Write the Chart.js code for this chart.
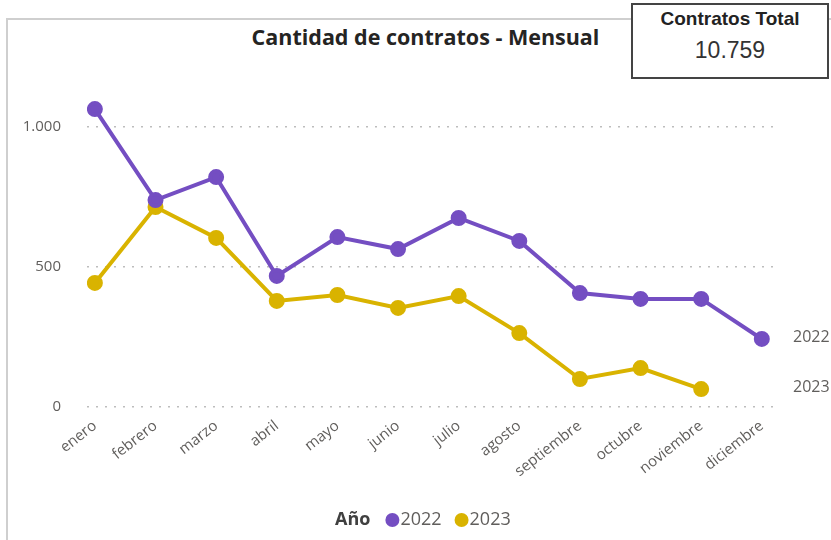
<!DOCTYPE html>
<html>
<head>
<meta charset="utf-8">
<script src="https://cdn.jsdelivr.net/npm/chart.js@4.4.1/dist/chart.umd.min.js"></script>
<style>
  html, body { margin: 0; padding: 0; background: #fff; }
  #wrap { position: relative; width: 831px; height: 540px; overflow: hidden; }
  #card { position: absolute; left: 6px; top: 18px; width: 900px; height: 600px;
          border-left: 2px solid #cfcfcf; border-top: 2px solid #cfcfcf; }
  #title { position: absolute; left: 0; width: 851px; top: 22px; text-align: center;
           font: 700 21.5px "Open Sans", sans-serif; color: #252423; }
  #kpi { position: absolute; left: 631px; top: 3px; width: 194px; height: 72px;
         border: 2px solid #444; background: #fff; text-align: center;
         font-family: "Liberation Sans", Arial, sans-serif; color: #222; }
  #kpi .lbl { font-weight: bold; font-size: 19px; margin-top: 3px; }
  #kpi .val { font-size: 23px; margin-top: 7px; color: #333; }
  canvas { position: absolute; left: 0; top: 0; }
</style>
</head>
<body>
<div id="wrap">
  <div id="card"></div>
  <div id="title">Cantidad de contratos - Mensual</div>
  <canvas id="linechart" width="831" height="540"></canvas>
  <div id="kpi"><div class="lbl">Contratos Total</div><div class="val">10.759</div></div>
</div>
<script>
var months = ['enero', 'febrero', 'marzo', 'abril', 'mayo', 'junio', 'julio', 'agosto', 'septiembre', 'octubre', 'noviembre', 'diciembre'];
var values2022 = [1064, 739, 821, 468, 607, 564, 675, 593, 407, 386, 386, 243];
var values2023 = [443, 714, 604, 379, 400, 354, 396, 264, 100, 139, 64];
var yTicks = [0, 500, 1000];

var purple = '#744EC2';
var yellow = '#D9B300';
var grey = '#605E5C';

function toPoints(arr) {
    return arr.map(function (v, i) { return { x: i, y: v }; });
}

// "2022" / "2023" labels at the end of each line
var endLabels = {
    id: 'endLabels',
    afterDatasetsDraw: function (chart) {
        var c = chart.ctx;
        c.save();
        c.font = '16px "Open Sans", sans-serif';
        c.fillStyle = grey;
        c.textBaseline = 'middle';
        c.textAlign = 'left';
        chart.data.datasets.forEach(function (ds, i) {
            var pts = chart.getDatasetMeta(i).data;
            var last = pts[pts.length - 1];
            c.fillText(ds.label, chart.chartArea.right + 13, last.y - 2);
        });
        c.restore();
    }
};

// legend: "Año  ● 2022 ● 2023" on one row
var yearLegend = {
    id: 'yearLegend',
    afterDraw: function (chart) {
        var c = chart.ctx;
        var y = 520;
        c.save();
        c.textBaseline = 'middle';
        c.textAlign = 'left';
        c.font = 'bold 18px "Open Sans", sans-serif';
        c.fillStyle = '#404040';
        var x = 335;
        c.fillText('Año', x, y);
        x += c.measureText('Año').width + 15;
        c.font = '18px "Open Sans", sans-serif';
        chart.data.datasets.forEach(function (ds) {
            c.fillStyle = ds.borderColor;
            c.beginPath();
            c.arc(x + 7, y, 7, 0, Math.PI * 2);
            c.fill();
            x += 15;
            c.fillStyle = grey;
            c.fillText(ds.label, x, y);
            x += c.measureText(ds.label).width + 13;
        });
        c.restore();
    }
};

var ctx = document.getElementById('linechart');
var myChart = new Chart(ctx, {
    type: 'line',
    data: {
        datasets: [{
            label: '2022',
            data: toPoints(values2022),
            borderColor: purple,
            backgroundColor: purple,
            borderWidth: 4,
            pointRadius: 6,
            pointHoverRadius: 6
        }, {
            label: '2023',
            data: toPoints(values2023),
            borderColor: yellow,
            backgroundColor: yellow,
            borderWidth: 4,
            pointRadius: 6,
            pointHoverRadius: 6
        }]
    },
    options: {
        responsive: false,
        animation: false,
        layout: { padding: { top: 99, right: 51, bottom: 42, left: 0 } },
        plugins: {
            title: { display: false },
            tooltip: { enabled: false },
            legend: { display: false }
        },
        scales: {
            x: {
                type: 'linear',
                min: -0.13,
                max: 11.3,
                grid: { display: false },
                border: { display: false },
                ticks: {
                    color: grey,
                    font: { family: 'Open Sans', size: 15 },
                    minRotation: 38,
                    maxRotation: 38,
                    autoSkip: false,
                    padding: 2,
                    callback: function (v) { return months[v]; }
                },
                afterBuildTicks: function (s) {
                    s.ticks = months.map(function (m, i) { return { value: i }; });
                },
                afterFit: function (s) { s.height = 91; }
            },
            y: {
                min: 0,
                max: 1100,
                border: { display: false, dash: [2, 7] },
                grid: { color: '#bdbdbd', lineWidth: 1.5, tickLength: 0 },
                ticks: {
                    color: grey,
                    padding: 26,
                    font: { family: 'Open Sans', size: 15 },
                    callback: function (v) { return v.toLocaleString('de-DE'); }
                },
                afterBuildTicks: function (s) {
                    s.ticks = yTicks.map(function (v) { return { value: v }; });
                },
                afterFit: function (s) { s.width = 87; }
            }
        }
    },
    plugins: [endLabels, yearLegend]
});
</script>
</body>
</html>
